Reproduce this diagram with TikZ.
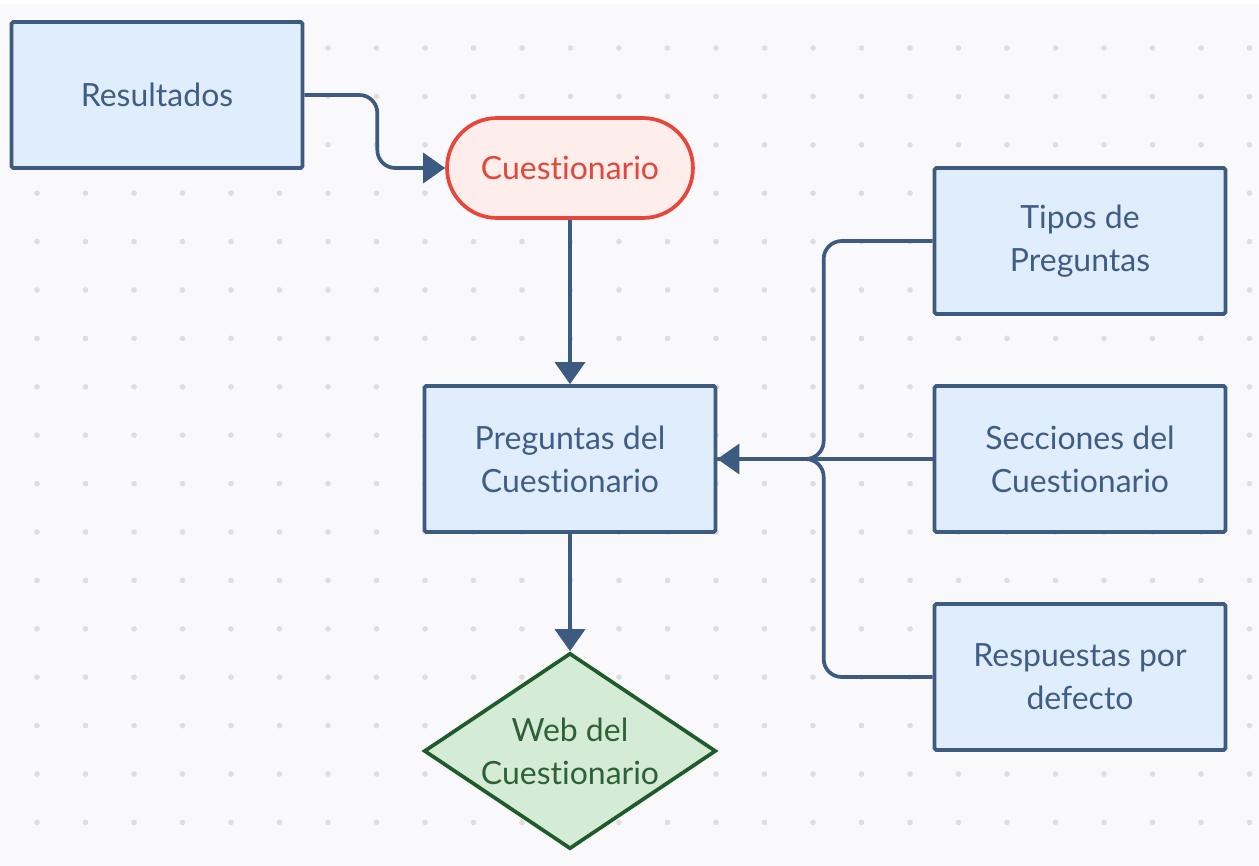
\documentclass[tikz,border=0pt]{standalone}
\usepackage{fontspec}
\setmainfont{Lato}[Ligatures={NoCommon}]
\usetikzlibrary{arrows.meta,shapes.geometric,calc}
\definecolor{bgc}{HTML}{F9F9FB}
\definecolor{dotc}{HTML}{DEDEE2}
\definecolor{bstroke}{HTML}{3D5A80}
\definecolor{bfill}{HTML}{E0EDFD}
\definecolor{btext}{HTML}{3F5D87}
\definecolor{rstroke}{HTML}{E8453C}
\definecolor{rfill}{HTML}{FDEDEB}
\definecolor{rtext}{HTML}{E2463D}
\definecolor{gstroke}{HTML}{1F5B2B}
\definecolor{gfill}{HTML}{D4EBD6}
\definecolor{gtext}{HTML}{2E6236}
\tikzset{
  lbl/.style={font=\fontsize{18.2}{24.4}\selectfont, align=center},
  bluebox/.style={lbl, rectangle, draw=bstroke, fill=bfill, text=btext, line width=2.1pt,
    minimum width=5.82cm, minimum height=2.92cm, inner sep=0pt, rounded corners=1pt},
  startbox/.style={lbl, rectangle, rounded corners=1cm, draw=rstroke, fill=rfill, text=rtext,
    line width=2.1pt, minimum width=4.92cm, minimum height=2.0cm, inner sep=0pt},
  diamondbox/.style={diamond, draw=gstroke, fill=gfill, line width=2.1pt,
    minimum width=5.84cm, minimum height=3.92cm, inner sep=0pt},
  gtxt/.style={lbl, text=gtext, inner sep=0pt},
  conn/.style={draw=bstroke, line width=2.1pt, rounded corners=0.36cm},
  tip/.style={-{Triangle[length=12.5pt,width=17pt]}}
}
\begin{document}
\begin{tikzpicture}[x=0.02cm, y=-0.02cm]
\useasboundingbox (0,0) rectangle (1259,866);
\fill[white] (0,0) rectangle (1259,866);
\fill[bgc] (0,4) rectangle (1259,866);
\foreach \i in {0,...,25}
  \foreach \j in {0,...,16}
    \fill[dotc] (37+48.5*\i, 48+48.4*\j) circle[radius=1.6pt];

\node[bluebox] (R) at (157,95) {Resultados};
\node[startbox] (C) at (570,168) {Cuestionario};
\node[bluebox] (P) at (570,459) {Preguntas del\\Cuestionario};
\node[diamondbox] (W) at (570,751) {};
\node[gtxt] (Wt) at (W.center) {Web del\\Cuestionario};
\node[bluebox] (T) at (1080,241) {Tipos de\\Preguntas};
\node[bluebox] (S) at (1080,459) {Secciones del\\Cuestionario};
\node[bluebox] (A) at (1080,677) {Respuestas por\\defecto};

\draw[conn, tip] (R.east) -- ++(73,0) |- (C.west);
\draw[conn, tip] (C.south) -- (P.north);
\draw[conn, tip] (P.south) -- (W.north);
\draw[conn] (T.west) -- ++(-109,0) |- (P.east);
\draw[conn] (A.west) -- ++(-109,0) |- (P.east);
\draw[conn, tip] (S.west) -- (P.east);
\end{tikzpicture}
\end{document}
